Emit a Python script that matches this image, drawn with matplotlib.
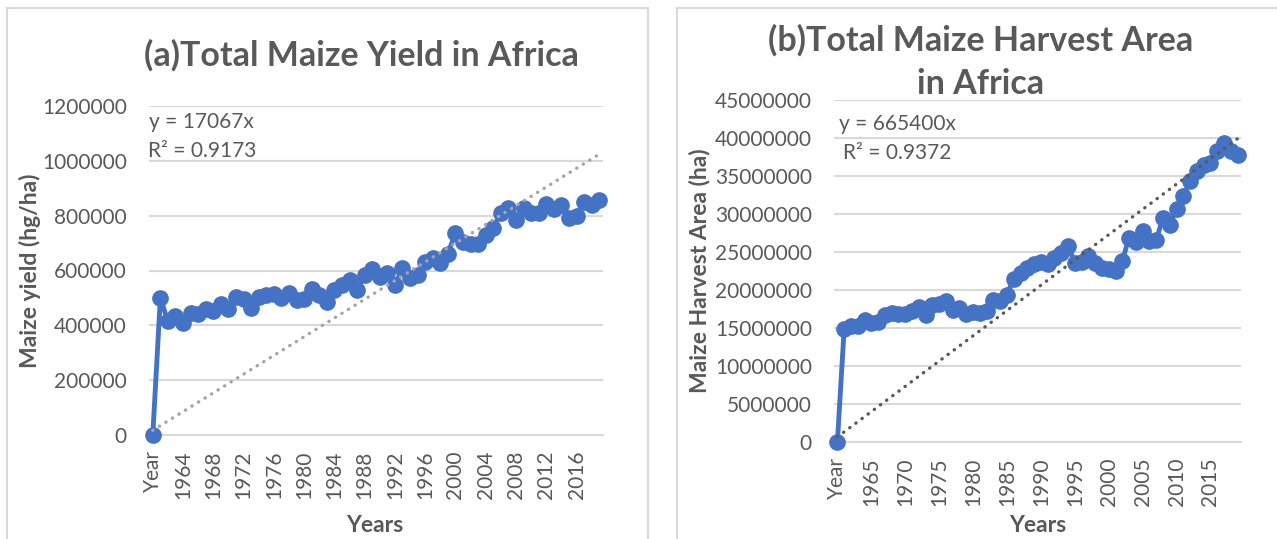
import numpy as np
import matplotlib
matplotlib.use("Agg")
import matplotlib.pyplot as plt
from matplotlib.patches import Rectangle

# ---- data ----
years = ["Year"] + [str(y) for y in range(1961, 2020)]

maize_yield = [
    0, 499000, 415000, 434000, 409000, 446000, 440000, 459000, 453000, 478000,
    459000, 503000, 497000, 463000, 503000, 509000, 515000, 499000, 518000, 494000,
    497000, 534000, 512000, 484000, 528000, 547000, 566000, 528000, 584000, 607000,
    578000, 591000, 547000, 609000, 572000, 584000, 632000, 647000, 628000, 662000,
    737000, 703000, 697000, 697000, 728000, 754000, 810000, 829000, 785000, 829000,
    808000, 810000, 844000, 823000, 838000, 791000, 797000, 850000, 838000, 856000,
]

harvest_area = [
    0, 14900000, 15300000, 15200000, 16100000, 15700000, 15800000, 16700000, 17000000, 16900000,
    16800000, 17300000, 17800000, 16700000, 18000000, 18200000, 18600000, 17400000, 17600000, 16900000,
    17100000, 17000000, 17300000, 18700000, 18600000, 19400000, 21500000, 22200000, 22900000, 23400000,
    23700000, 23400000, 24200000, 24900000, 25800000, 23600000, 23700000, 24500000, 23600000, 22900000,
    22700000, 22500000, 23800000, 26900000, 26300000, 27700000, 26500000, 26600000, 29500000, 28600000,
    30600000, 32400000, 34400000, 35600000, 36400000, 36700000, 38300000, 39300000, 38300000, 37800000,
]

yield_slope, yield_r2 = 17067, 0.9173
area_slope, area_r2 = 665400, 0.9372

yield_ticks = [0, 200000, 400000, 600000, 800000, 1000000, 1200000]
area_ticks = [0, 5000000, 10000000, 15000000, 20000000, 25000000,
              30000000, 35000000, 40000000, 45000000]

# ---- style ----
plt.rcParams['font.family'] = ['Lato', 'DejaVu Sans']
TXT = '#595959'
BLUE = '#4472C4'
GRID = '#D9D9D9'
W, H = 1277, 539

fig = plt.figure(figsize=(12.77, 5.39), dpi=100)

# panel frames (like the chart-area borders)
for x0, x1 in [(7, 648), (677, 1290)]:
    fig.patches.append(Rectangle((x0 / W, -0.05), (x1 - x0) / W, 1.05 - 8 / H,
                                 transform=fig.transFigure, fill=False,
                                 edgecolor=GRID, linewidth=1.5))


def draw_panel(ax, values, slope, r2, ticks, tick_step, trend_color, eq_xy, r2_xy):
    x = np.arange(len(values))
    ax.plot(x, values, color=BLUE, linewidth=3.5, marker='o', markersize=11,
            zorder=3, clip_on=False)
    # trendline through origin, excel style x = 1..n
    ax.plot(x, slope * (x + 1), color=trend_color, linestyle=(0, (0.1, 2.2)),
            linewidth=2.4, dash_capstyle='round', zorder=4)

    ax.set_xlim(-0.5, len(values) - 0.5)
    ax.set_ylim(ticks[0], ticks[-1])
    ax.set_yticks(ticks)
    ax.set_yticklabels([str(t) for t in ticks])
    ax.set_xticks(x[::tick_step])
    ax.set_xticklabels([years[i] for i in x[::tick_step]], rotation=90)
    ax.grid(True, axis='y', color=GRID, linewidth=1.5)
    ax.set_axisbelow(True)
    for s in ['top', 'right', 'left']:
        ax.spines[s].set_visible(False)
    ax.spines['bottom'].set_color(GRID)
    ax.spines['bottom'].set_linewidth(1.5)
    ax.tick_params(length=0, labelsize=15, labelcolor=TXT)
    ax.tick_params(axis='y', pad=16)
    ax.tick_params(axis='x', pad=11)

    fig.text(eq_xy[0] / W, 1 - eq_xy[1] / H, 'y = {}x'.format(slope),
             fontsize=15, color=TXT, va='center', ha='left')
    fig.text(r2_xy[0] / W, 1 - r2_xy[1] / H, 'R² = {}'.format(r2),
             fontsize=15, color=TXT, va='center', ha='left')


# ---- (a) yield ----
ax1 = fig.add_axes([149 / W, 1 - 435 / H, 454 / W, 329 / H])
draw_panel(ax1, maize_yield, yield_slope, yield_r2, yield_ticks, 4, '#A5A5A5',
           (149, 122), (148, 151))
fig.text(361 / W, 1 - 55 / H, '(a)Total Maize Yield in Africa', fontsize=24.5,
         fontweight='bold', color=TXT, ha='center', va='center')
fig.text(30 / W, 1 - 271 / H, 'Maize yield (hg/ha)', fontsize=16.5, rotation=90,
         fontweight='bold', color=TXT, ha='center', va='center')
fig.text(375 / W, 1 - 525 / H, 'Years', fontsize=16.5,
         fontweight='bold', color=TXT, ha='center', va='center')

# ---- (b) harvest area ----
ax2 = fig.add_axes([834 / W, 1 - 442 / H, 407 / W, 342 / H])
draw_panel(ax2, harvest_area, area_slope, area_r2, area_ticks, 5, '#595959',
           (839, 124), (843, 153))
fig.text(981 / W, 1 - 40 / H, '(b)Total Maize Harvest Area', fontsize=24.5,
         fontweight='bold', color=TXT, ha='center', va='center')
fig.text(981 / W, 1 - 84 / H, 'in Africa', fontsize=24.5,
         fontweight='bold', color=TXT, ha='center', va='center')
fig.text(699 / W, 1 - 271 / H, 'Maize Harvest Area (ha)', fontsize=16.5, rotation=90,
         fontweight='bold', color=TXT, ha='center', va='center')
fig.text(1038 / W, 1 - 525 / H, 'Years', fontsize=16.5,
         fontweight='bold', color=TXT, ha='center', va='center')

fig.savefig('out.png', dpi=100, facecolor='white')
